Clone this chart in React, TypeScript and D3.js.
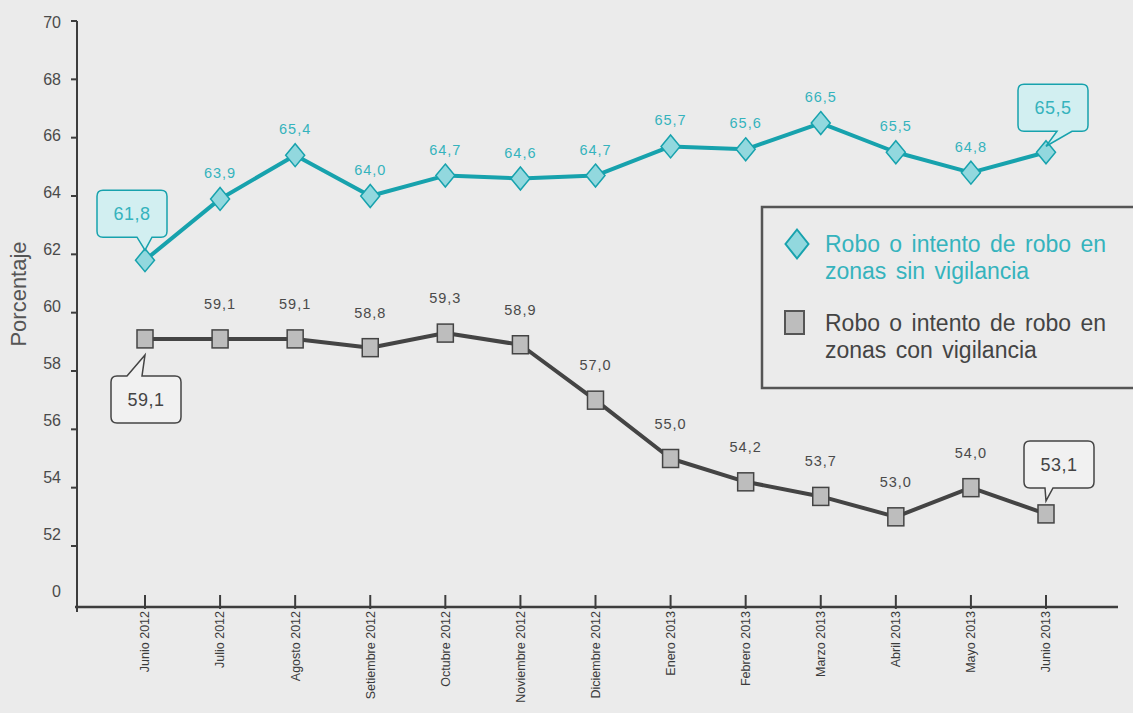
import React from "react";
import * as d3 from "d3";

const months = [
  "Junio 2012", "Julio 2012", "Agosto 2012", "Setiembre 2012", "Octubre 2012",
  "Noviembre 2012", "Diciembre 2012", "Enero 2013", "Febrero 2013", "Marzo 2013",
  "Abril 2013", "Mayo 2013", "Junio 2013",
];
const sinVigilancia = [61.8, 63.9, 65.4, 64.0, 64.7, 64.6, 64.7, 65.7, 65.6, 66.5, 65.5, 64.8, 65.5];
const conVigilancia = [59.1, 59.1, 59.1, 58.8, 59.3, 58.9, 57.0, 55.0, 54.2, 53.7, 53.0, 54.0, 53.1];
const yTicks = [52, 54, 56, 58, 60, 62, 64, 66, 68, 70];
const yTickLabels = ["0", "52", "54", "56", "58", "60", "62", "64", "66", "68", "70"];
const legendLabels = [
  ["Robo o intento de robo en", "zonas sin vigilancia"],
  ["Robo o intento de robo en", "zonas con vigilancia"],
];

const W = 1133;
const H = 713;
const FONT = "'Liberation Sans', Arial, Helvetica, sans-serif";
const TEAL = "#17a2ad";
const TEAL_TEXT = "#35b3bd";
const TEAL_FILL = "#92d8de";
const DARK = "#444444";
const GRAY_FILL = "#bdbdbd";

const axisLeft = 77;
const axisBottom = 607;
const axisRight = 1118;

const fmt = (v: number) => v.toFixed(1).replace(".", ",");

// rounded box with a speech pointer on the top or bottom edge
function calloutPath(x: number, y: number, w: number, h: number, r: number,
  side: "top" | "bottom", b1: number, b2: number, tx: number, ty: number) {
  const p = d3.path();
  p.moveTo(x + r, y);
  if (side === "top") { p.lineTo(b1, y); p.lineTo(tx, ty); p.lineTo(b2, y); }
  p.lineTo(x + w - r, y);
  p.quadraticCurveTo(x + w, y, x + w, y + r);
  p.lineTo(x + w, y + h - r);
  p.quadraticCurveTo(x + w, y + h, x + w - r, y + h);
  if (side === "bottom") { p.lineTo(b2, y + h); p.lineTo(tx, ty); p.lineTo(b1, y + h); }
  p.lineTo(x + r, y + h);
  p.quadraticCurveTo(x, y + h, x, y + h - r);
  p.lineTo(x, y + r);
  p.quadraticCurveTo(x, y, x + r, y);
  p.closePath();
  return p.toString();
}

const diamond = (cx: number, cy: number, w: number, h: number) =>
  `M${cx},${cy - h / 2}L${cx + w / 2},${cy}L${cx},${cy + h / 2}L${cx - w / 2},${cy}Z`;

export default function App() {
  const x = d3.scalePoint<string>().domain(months).range([145, 1046]);
  const y = d3.scaleLinear().domain([52, 70]).range([546, 21]);
  // tick labels sit on an evenly spaced grid that includes the "0" break
  const yLab = d3.scaleLinear().domain([0, yTickLabels.length - 1]).range([591, 22]);

  const line = d3.line<number>()
    .x((_, i) => x(months[i]) as number)
    .y((d) => y(d));

  const last = months.length - 1;
  const callouts = [
    { v: sinVigilancia[0], i: 0, bx: -48, by: -70, side: "bottom" as const, b1: -8, b2: 7, tip: -10, stroke: TEAL, fill: "#d2eff1", color: TEAL_TEXT },
    { v: sinVigilancia[last], i: last, bx: -28, by: -68, side: "bottom" as const, b1: 11, b2: 26, tip: -6, stroke: TEAL, fill: "#d2eff1", color: TEAL_TEXT },
    { v: conVigilancia[0], i: 0, bx: -34, by: 37, side: "top" as const, b1: -18, b2: -3, tip: 16, stroke: DARK, fill: "#f1f1f1", color: DARK },
    { v: conVigilancia[last], i: last, bx: -22, by: -73, side: "bottom" as const, b1: -1, b2: 7, tip: -13, stroke: DARK, fill: "#f1f1f1", color: DARK },
  ];

  return (
    <svg width={W} height={H} style={{ position: "absolute", left: 0, top: 0, fontFamily: FONT }}>
      <rect width={W} height={H} fill="#ebebeb" />

      {/* y axis */}
      <line x1={axisLeft} x2={axisLeft} y1={y(70)} y2={axisBottom + 5} stroke="#3d3d3d" strokeWidth={2} />
      {yTicks.map((t) => (
        <line key={t} x1={axisLeft - 6} x2={axisLeft} y1={y(t)} y2={y(t)} stroke="#3d3d3d" strokeWidth={2} />
      ))}
      {yTickLabels.map((l, i) => (
        <text key={l} x={61} y={yLab(i)} dy="0.35em" textAnchor="end" fontSize={16} fill="#4a4a4a">{l}</text>
      ))}
      <text transform={`translate(26,${294}) rotate(-90)`} textAnchor="middle" fontSize={22} fill="#555">Porcentaje</text>

      {/* x axis */}
      <line x1={axisLeft - 2} x2={axisRight} y1={axisBottom} y2={axisBottom} stroke="#3d3d3d" strokeWidth={2.5} />
      {months.map((m) => (
        <g key={m} transform={`translate(${x(m)},${axisBottom})`}>
          <line y1={-12} y2={2} stroke="#3d3d3d" strokeWidth={2} />
          <text transform="rotate(-90)" x={-4} dy="0.35em" textAnchor="end" fontSize={12.5} fill="#3a3a3a">{m}</text>
        </g>
      ))}

      {/* series: con vigilancia */}
      <path d={line(conVigilancia) ?? ""} fill="none" stroke={DARK} strokeWidth={4} strokeLinejoin="round" />
      {conVigilancia.map((v, i) => (
        <rect key={i} x={(x(months[i]) as number) - 8} y={y(v) - 9} width={16} height={18} fill={GRAY_FILL} stroke={DARK} strokeWidth={1.5} />
      ))}
      {conVigilancia.map((v, i) => (i === 0 || i === last) ? null : (
        <text key={i} x={x(months[i])} y={y(v) - 30} textAnchor="middle" fontSize={14.5} letterSpacing={1} fill="#4a4a4a">{fmt(v)}</text>
      ))}

      {/* series: sin vigilancia */}
      <path d={line(sinVigilancia) ?? ""} fill="none" stroke={TEAL} strokeWidth={4} strokeLinejoin="round" />
      {sinVigilancia.map((v, i) => (
        <path key={i} d={diamond(x(months[i]) as number, y(v), 19, 23)} fill={TEAL_FILL} stroke={TEAL} strokeWidth={1.5} />
      ))}
      {sinVigilancia.map((v, i) => (i === 0 || i === last) ? null : (
        <text key={i} x={x(months[i])} y={y(v) - 21} textAnchor="middle" fontSize={14.5} letterSpacing={1} fill={TEAL_TEXT}>{fmt(v)}</text>
      ))}

      {/* callouts */}
      {callouts.map((c, k) => {
        const px = x(months[c.i]) as number;
        const py = y(c.v);
        const bx = px + c.bx;
        const by = py + c.by;
        return (
          <g key={k}>
            <path d={calloutPath(bx, by, 70, 47, 6, c.side, px + c.b1, px + c.b2, px, py + c.tip)}
              fill={c.fill} stroke={c.stroke} strokeWidth={1.5} />
            <text x={bx + 35} y={by + 23.5} dy="0.35em" textAnchor="middle" fontSize={18} letterSpacing={0.5} fill={c.color}>{fmt(c.v)}</text>
          </g>
        );
      })}

      {/* legend */}
      <rect x={762} y={207} width={390} height={181} fill="none" stroke="#555" strokeWidth={2.5} />
      <path d={diamond(797, 244, 23, 29)} fill={TEAL_FILL} stroke={TEAL} strokeWidth={2} />
      <rect x={785} y={311} width={19} height={23} fill={GRAY_FILL} stroke="#555" strokeWidth={2} />
      {legendLabels.map((lines, k) => (
        <text key={k} x={825} y={k === 0 ? 252 : 331} fontSize={23} fill={k === 0 ? TEAL_TEXT : DARK} wordSpacing={3}>
          {lines.map((t, j) => (
            <tspan key={j} x={825} dy={j === 0 ? 0 : 27}>{t}</tspan>
          ))}
        </text>
      ))}
    </svg>
  );
}
